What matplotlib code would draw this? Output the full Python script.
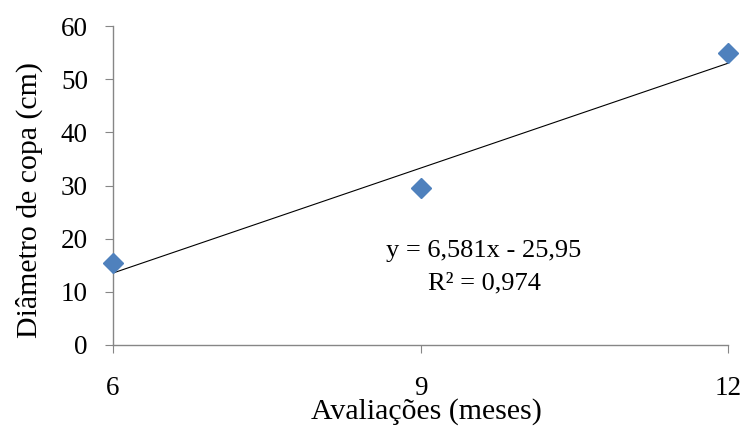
import matplotlib.pyplot as plt
import numpy as np

meses = [6, 9, 12]
diametro = [15.4, 29.55, 54.89]
slope, intercept = 6.581, -25.95
r2 = 0.974

plt.rcParams['font.family'] = ['Liberation Serif', 'DejaVu Serif']

fig = plt.figure(figsize=(7.43, 4.28), dpi=100)
ax = fig.add_axes([0.152, 0.194, 0.828, 0.745])

xs = np.array([meses[0], meses[-1]])
ax.plot(xs, slope * xs + intercept, color='black', lw=0.8, zorder=2)
ax.plot(meses, diametro, linestyle='none', marker='D', markersize=10.5,
        color='#4F81BD', zorder=3, clip_on=False)

ax.set_xlim(6, 12)
ax.set_ylim(0, 60)
ax.set_xticks(meses)
ax.set_yticks(range(0, 61, 10))

for side in ['top', 'right']:
    ax.spines[side].set_visible(False)
for side in ['left', 'bottom']:
    ax.spines[side].set_color('#868686')
    ax.spines[side].set_linewidth(1)

ax.tick_params(axis='x', direction='out', length=6, color='#868686',
               labelsize=19.5, pad=16)
ax.tick_params(axis='y', direction='out', length=6, color='#868686',
               labelsize=19.5, pad=12)

ax.set_xlabel('Avaliações (meses)', fontsize=21.5)
ax.set_ylabel('Diâmetro de copa (cm)', fontsize=21.5)
ax.xaxis.set_label_coords(0.509, -0.168)
ax.yaxis.set_label_coords(-0.113, 0.455)

ax.text(9.62, 17.6, f'y = {slope:.3f}x - {abs(intercept):.2f}'.replace('.', ','),
        ha='center', va='center', fontsize=19)
ax.text(9.62, 11.6, f'R² = {r2:.3f}'.replace('.', ','),
        ha='center', va='center', fontsize=19)

fig.savefig('out.png', dpi=100)
